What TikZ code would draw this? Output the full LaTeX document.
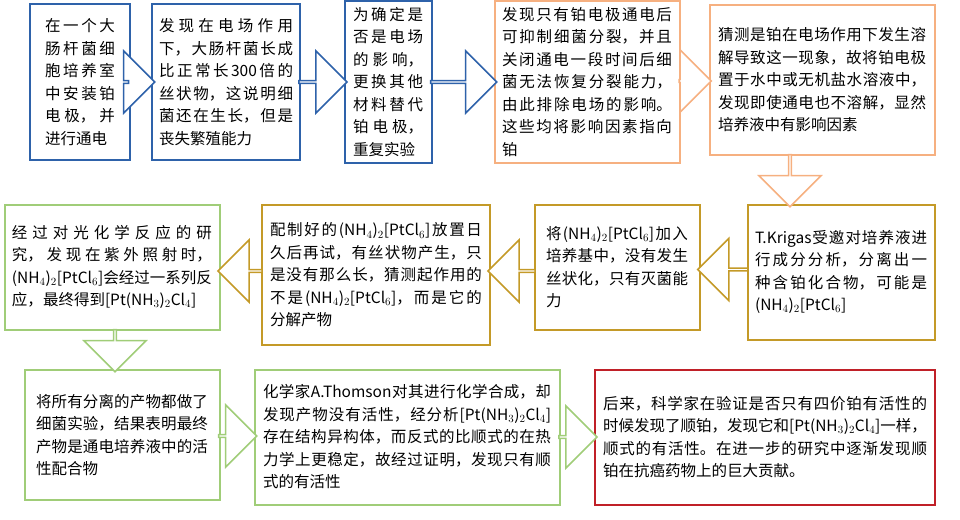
\documentclass[tikz,border=0pt]{standalone}
\usepackage{fontspec}
\setmainfont{Noto Sans CJK SC}
\XeTeXlinebreaklocale "zh"
\XeTeXlinebreakskip=0pt plus 1pt
\usetikzlibrary{shapes.arrows, calc}
\definecolor{cblue}{RGB}{46,98,170}
\definecolor{corange}{RGB}{246,176,128}
\definecolor{cgold}{RGB}{196,154,40}
\definecolor{cgreen}{RGB}{160,205,120}
\definecolor{cred}{RGB}{192,32,40}

\begin{document}
\begin{tikzpicture}[x=1pt,y=-1pt]

\tikzset{box/.style = {draw=#1, line width=2pt, inner sep=6pt, align=justify,
  font=\fontsize{15.5}{22.5}\selectfont}}
\tikzset{harrow/.style = {single arrow, draw=#1, line width=1.6pt, fill=white,
  inner sep=0pt, single arrow head extend=18pt}}
\useasboundingbox (0,0) rectangle (960,519);
%row 1
\node[box=cblue, minimum width=100, minimum height=155, text width=70] (1) at (80,82)
  {在一个大肠杆菌细胞培养室中安装铂电极，并进行通电};
\node[box=cblue, minimum width=148, minimum height=155, text width=134] (2) at (226,82)
  {发现在电场作用下，大肠杆菌长成比正常长300倍的丝状物，这说明细菌还在生长，但是丧失繁殖能力};
\node[box=cblue, minimum width=87, minimum height=155, text width=70] (3) at (388,82)
  {为确定是否是电场的影响，更换其他材料替代铂电极，重复实验};
\node[box=corange, minimum width=185, minimum height=155, text width=170] (4) at (587,82)
  {发现只有铂电极通电后可抑制细菌分裂，并且关闭通电一段时间后细菌无法恢复分裂能力，由此排除电场的影响。这些均将影响因素指向铂};
\node[box=corange, minimum width=225, minimum height=150, text width=208] (5) at (822,80)
  {猜测是铂在电场作用下发生溶解导致这一现象，故将铂电极置于水中或无机盐水溶液中，发现即使通电也不溶解，显然培养液中有影响因素};
%row 2
\node[box=cgold, minimum width=187, minimum height=135, text width=172] (6) at (841,272)
  {T.Krigas受邀对培养液进行成分分析，分离出一种含铂化合物，可能是(NH$_4$)$_2$[PtCl$_6$]};
\node[box=cgold, minimum width=165, minimum height=125, text width=142] (7) at (617,267)
  {将(NH$_4$)$_2$[PtCl$_6$]加入培养基中，没有发生丝状化，只有灭菌能力};
\node[box=cgold, minimum width=228, minimum height=140, text width=212] (8) at (376,275)
  {配制好的(NH$_4$)$_2$[PtCl$_6$]放置日久后再试，有丝状物产生，只是没有那么长，猜测起作用的不是(NH$_4$)$_2$[PtCl$_6$]，而是它的分解产物};
\node[box=cgreen, minimum width=215, minimum height=125, text width=200] (9) at (112,267)
  {经过对光化学反应的研究，发现在紫外照射时，(NH$_4$)$_2$[PtCl$_6$]会经过一系列反应，最终得到[Pt(NH$_3$)$_2$Cl$_4$]};
%row 3
\node[box=cgreen, minimum width=195, minimum height=130, text width=172] (10) at (122,435)
  {将所有分离的产物都做了细菌实验，结果表明最终产物是通电培养液中的活性配合物};
\node[box=cgreen, minimum width=305, minimum height=135, text width=288] (11) at (407,437)
  {化学家A.Thomson对其进行化学合成，却发现产物没有活性，经分析[Pt(NH$_3$)$_2$Cl$_4$]存在结构异构体，而反式的比顺式的在热力学上更稳定，故经过证明，发现只有顺式的有活性};
\node[box=cred, minimum width=340, minimum height=135, text width=324] (12) at (765,437)
  {后来，科学家在验证是否只有四价铂有活性的时候发现了顺铂，发现它和[Pt(NH$_3$)$_2$Cl$_4$]一样，顺式的有活性。在进一步的研究中逐渐发现顺铂在抗癌药物上的巨大贡献。};
%arrows
\node[harrow=cblue, minimum height=26, minimum width=62] at ($(1.east)!0.5!(2.west)$) {};
\node[harrow=cblue, minimum height=48, minimum width=62] at ($(2.east)!0.5!(3.west)$) {};
\node[harrow=cblue, minimum height=66, minimum width=62] at ($(3.east)!0.5!(4.west)$) {};
\node[harrow=corange, minimum height=32, minimum width=62] at ($(4.east)!0.5!(5.west)$) {};
\node[harrow=corange, minimum height=52, minimum width=62, rotate=-90] at (790,180) {};
\node[harrow=cgold, minimum height=50, minimum width=62, rotate=180] at ($(6.west)!0.5!(7.east)$) {};
\node[harrow=cgold, minimum height=47, minimum width=62, rotate=180] at ($(7.west)!0.5!(8.east)$) {};
\node[harrow=cgold, minimum height=44, minimum width=62, rotate=180] at ($(8.west)!0.5!(9.east)$) {};
\node[harrow=cgreen, minimum height=42, minimum width=62, rotate=-90] at (115,350) {};
\node[harrow=cgreen, minimum height=38, minimum width=62] at ($(10.east)!0.5!(11.west)$) {};
\node[harrow=cgreen, minimum height=38, minimum width=62] at ($(11.east)!0.5!(12.west)$) {};

\end{tikzpicture}
\end{document}
